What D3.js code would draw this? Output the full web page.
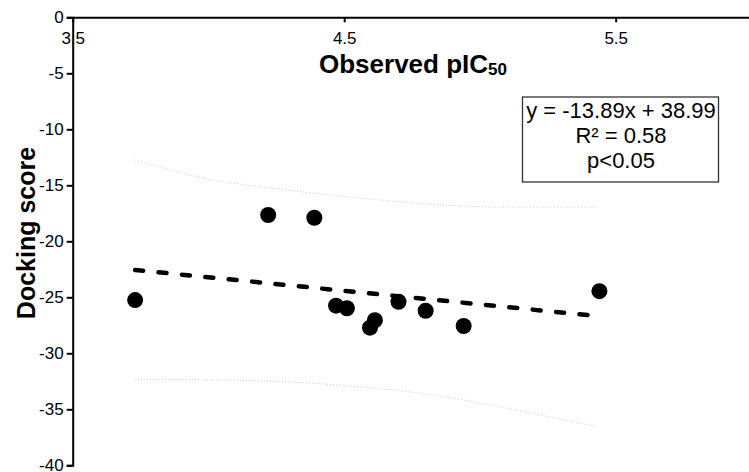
<!DOCTYPE html>
<html>
<head>
<meta charset="utf-8">
<script src="https://cdn.jsdelivr.net/npm/d3@7"></script>
<style>
  body { margin: 0; background: #fff; }
  svg { font-family: "Liberation Sans", Arial, sans-serif; }
</style>
</head>
<body>
<div id="chart"></div>
<script>
// observed pIC50 vs docking score
var pic50 = [3.73, 4.22, 4.39, 4.47, 4.51, 4.595, 4.613, 4.70, 4.80, 4.94, 5.44];
var dockScore = [-25.25, -17.65, -17.9, -25.75, -25.98, -27.71, -27.05, -25.4, -26.2, -27.56, -24.45];

// dashed fit line, ends
var fitX = [3.73, 5.43];
var fitY = [-22.56, -26.67];

// dotted confidence bands
var upperX = [3.73, 3.98, 4.29, 4.59, 4.93, 5.11, 5.43];
var upperY = [-12.74, -14.35, -15.42, -16.22, -16.85, -16.94, -16.94];
var lowerX = [3.73, 4.04, 4.29, 4.59, 4.81, 5.05, 5.43];
var lowerY = [-32.32, -32.38, -32.54, -33.07, -33.66, -34.68, -36.55];

var xTicks = [3.5, 4.5, 5.5];
var yTicks = [0, -5, -10, -15, -20, -25, -30, -35, -40];
var statLines = ["y = -13.89x + 38.99", "R\u00b2 = 0.58", "p<0.05"];

var width = 749, height = 472;
var margin = {left: 72.7, top: 17.3};

var svg = d3.select("#chart").append("svg")
    .attr("width", width)
    .attr("height", height);

var x = d3.scaleLinear().domain([3.5, 6]).range([margin.left, margin.left + 2.5 * 271.5]);
var y = d3.scaleLinear().domain([0, -40]).range([margin.top, margin.top + 448]);

function zip(a, b) {
    return a.map(function(v, i) { return [v, b[i]]; });
}

// confidence bands
var band = d3.line()
    .x(function(d) { return x(d[0]); })
    .y(function(d) { return y(d[1]); })
    .curve(d3.curveMonotoneX);

[zip(upperX, upperY), zip(lowerX, lowerY)].forEach(function(pts) {
    svg.append("path")
        .attr("d", band(pts))
        .attr("fill", "none")
        .attr("stroke", "#c8c8c8")
        .attr("stroke-width", 1)
        .attr("stroke-dasharray", "1,2");
});

// fit line
svg.append("path")
    .attr("d", d3.line()
        .x(function(d) { return x(d[0]); })
        .y(function(d) { return y(d[1]); })(zip(fitX, fitY)))
    .attr("fill", "none")
    .attr("stroke", "#000")
    .attr("stroke-width", 4.5)
    .attr("stroke-linecap", "round")
    .attr("stroke-dasharray", "8,15.5");

// points
svg.selectAll(".dot")
    .data(zip(pic50, dockScore))
    .enter().append("circle")
    .attr("class", "dot")
    .attr("cx", function(d) { return x(d[0]); })
    .attr("cy", function(d) { return y(d[1]); })
    .attr("r", 8)
    .attr("fill", "#000");

// axes
var xAxis = svg.append("g")
    .attr("transform", "translate(0," + margin.top + ")")
    .call(d3.axisBottom(x).tickValues(xTicks).tickSize(5).tickSizeOuter(0).tickPadding(10)
        .tickFormat(function(d) { return String(d); }));

var yAxis = svg.append("g")
    .attr("transform", "translate(" + margin.left + ",0)")
    .call(d3.axisLeft(y).tickValues(yTicks).tickSize(6).tickSizeOuter(6).tickPadding(3)
        .tickFormat(function(d) { return String(d); }));

[xAxis, yAxis].forEach(function(ax) {
    ax.select(".domain").attr("stroke", "#000").attr("stroke-width", 2);
    ax.selectAll(".tick line").attr("stroke", "#000").attr("stroke-width", 2);
    ax.selectAll(".tick text")
        .attr("fill", "#000")
        .style("font-size", "17px")
        .style("font-family", "Liberation Sans, Arial, sans-serif");
});
yAxis.selectAll(".tick text").attr("dy", "0.3em");
yAxis.raise();

// axis titles
var xt = svg.append("text")
    .attr("x", 413)
    .attr("y", 73.3)
    .attr("text-anchor", "middle")
    .style("font-size", "26px")
    .style("font-weight", "bold");
xt.append("tspan").text("Observed pIC");
xt.append("tspan").attr("dy", 2).style("font-size", "17px").text("50");

svg.append("text")
    .attr("transform", "translate(35,233) rotate(-90)")
    .attr("text-anchor", "middle")
    .style("font-size", "25px")
    .style("font-weight", "bold")
    .text("Docking score");

// stats box
svg.append("rect")
    .attr("x", 522.5)
    .attr("y", 97)
    .attr("width", 196)
    .attr("height", 85)
    .attr("fill", "#fff")
    .attr("stroke", "#333")
    .attr("stroke-width", 1.3);

svg.selectAll(".stat")
    .data(statLines)
    .enter().append("text")
    .attr("class", "stat")
    .attr("x", 621)
    .attr("y", function(d, i) { return 118.3 + i * 25; })
    .attr("text-anchor", "middle")
    .style("font-size", "22px")
    .text(function(d) { return d; });
</script>
</body>
</html>
